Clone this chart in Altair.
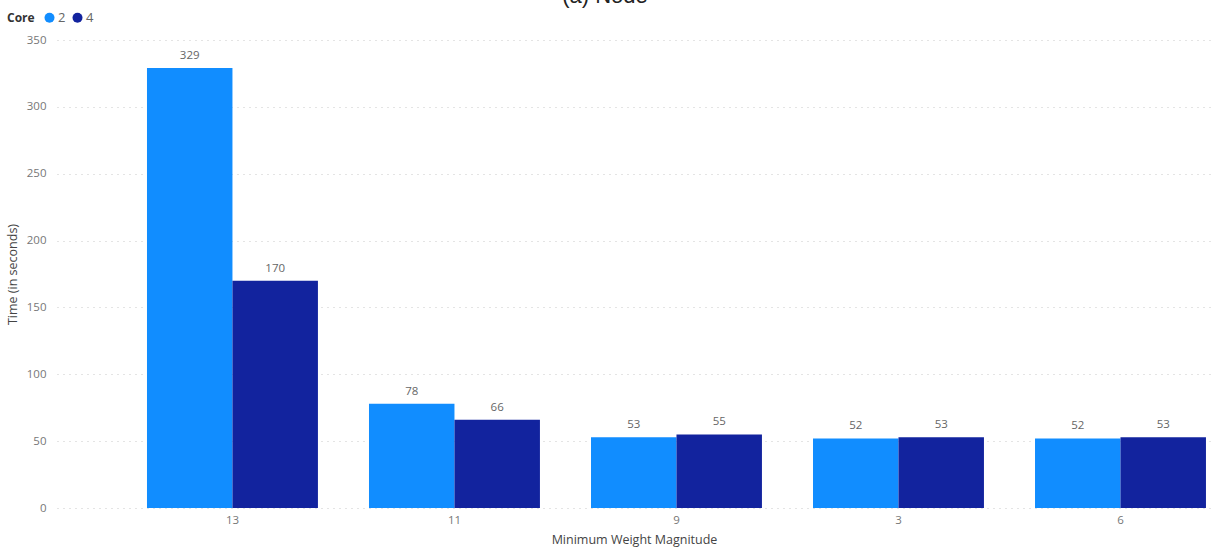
import altair as alt
import pandas as pd

categories = ["13", "11", "9", "3", "6"]
cores = ["2", "4"]
time_core2 = [329, 78, 53, 52, 52]
time_core4 = [170, 66, 55, 53, 53]
y_ticks = [0, 50, 100, 150, 200, 250, 300, 350]
colors = ["#118DFF", "#12239E"]

rows = []
for c, a, b in zip(categories, time_core2, time_core4):
    rows.append({"mag": c, "core": "2", "time": a})
    rows.append({"mag": c, "core": "4", "time": b})
df = pd.DataFrame(rows)

FONT = "Open Sans"

x_enc = alt.X(
    "mag:N",
    sort=categories,
    title="Minimum Weight Magnitude",
    scale=alt.Scale(paddingInner=0.23, paddingOuter=0.214, align=0.947),
    axis=alt.Axis(
        labelAngle=0, domain=False, ticks=False, grid=False,
        labelColor="#777777", labelFontSize=11.5, labelPadding=6,
        titleColor="#444444", titleFontSize=12.5, titleFontWeight="normal",
        titlePadding=8, labelFont=FONT, titleFont=FONT,
    ),
)
y_enc = alt.Y(
    "time:Q",
    title="Time (in seconds)",
    scale=alt.Scale(domain=[0, 350], nice=False),
    axis=alt.Axis(
        values=y_ticks, domain=False, ticks=False, grid=True,
        gridColor="#c8c8c8", gridDash=[1, 5], gridWidth=1,
        labelColor="#777777", labelFontSize=11.5, labelPadding=11,
        titleColor="#444444", titleFontSize=12.5, titleFontWeight="normal",
        titlePadding=7, labelFont=FONT, titleFont=FONT,
    ),
)

base = alt.Chart(df).encode(
    x=x_enc,
    xOffset=alt.XOffset("core:N", sort=cores),
)

bars = base.mark_bar().encode(
    y=y_enc,
    color=alt.Color(
        "core:N",
        scale=alt.Scale(domain=cores, range=colors),
        legend=alt.Legend(
            title="Core", orient="none", direction="horizontal",
            legendX=-50, legendY=-29, titleOrient="left",
            symbolType="circle", symbolSize=100, symbolStrokeWidth=0,
            titleFontSize=12, titleFontWeight="bold", titleColor="#333333",
            labelFontSize=13, labelColor="#666666", titleFont=FONT,
            labelFont=FONT, columnPadding=5, symbolOffset=0, titlePadding=8,
            labelOffset=2,
        ),
    ),
)

labels = base.mark_text(
    dy=-7, baseline="bottom", fontSize=11.5, color="#666666", font=FONT
).encode(
    y=alt.Y("time:Q"),
    text=alt.Text("time:Q"),
)

title_df = pd.DataFrame({"t": ["(a) Node"]})
title = alt.Chart(title_df).mark_text(
    fontSize=22, color="#222222", font="Liberation Sans", baseline="alphabetic", align="center"
).encode(
    x=alt.value(548), y=alt.value(-37), text="t:N"
)

chart = alt.layer(bars, labels, title).properties(
    width=1154,
    height=468,
    autosize=alt.AutoSizeParams(type="none"),
    padding={"left": 57, "top": 40, "right": 0, "bottom": 43},
).configure_view(stroke=None)

chart.save("out.html", embed_options={"renderer": "svg", "actions": False})
